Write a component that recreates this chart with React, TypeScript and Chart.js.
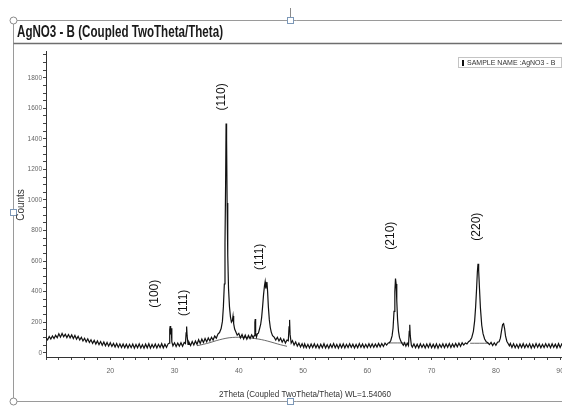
import React, { useEffect, useRef } from "react";
import { Chart, registerables } from "chart.js";

Chart.register(...registerables);

const titleText = "AgNO3 - B (Coupled TwoTheta/Theta)";
const xTitle = "2Theta (Coupled TwoTheta/Theta) WL=1.54060";
const yTitle = "Counts";
const legendText = "SAMPLE NAME :AgNO3 - B";

const twoTheta = [
  10, 10.25, 10.5, 10.75, 11, 11.25, 11.5, 11.75, 12, 12.25,
  12.5, 12.75, 13, 13.25, 13.5, 13.75, 14, 14.25, 14.5, 14.75,
  15, 15.25, 15.5, 15.75, 16, 16.25, 16.5, 16.75, 17, 17.25,
  17.5, 17.75, 18, 18.25, 18.5, 18.75, 19, 19.25, 19.5, 19.75,
  20, 20.25, 20.5, 20.75, 21, 21.25, 21.5, 21.75, 22, 22.25,
  22.5, 22.75, 23, 23.25, 23.5, 23.75, 24, 24.25, 24.5, 24.75,
  25, 25.25, 25.5, 25.75, 26, 26.25, 26.5, 26.75, 27, 27.25,
  27.5, 27.75, 28, 28.25, 28.5, 28.75, 29, 29.15, 29.25, 29.32,
  29.4, 29.48, 29.58, 29.75, 30, 30.25, 30.5, 30.75, 31, 31.25,
  31.5, 31.7, 31.8, 31.88, 31.96, 32.1, 32.25, 32.5, 32.75, 33,
  33.25, 33.5, 33.75, 34, 34.25, 34.5, 34.75, 35, 35.25, 35.5,
  35.75, 36, 36.25, 36.5, 36.75, 37, 37.25, 37.45, 37.6, 37.75,
  37.85, 37.95, 38.02, 38.1, 38.18, 38.28, 38.4, 38.55, 38.7, 38.85,
  39, 39.1, 39.2, 39.35, 39.5, 39.75, 40, 40.25, 40.5, 40.75,
  41, 41.25, 41.5, 41.75, 42, 42.25, 42.4, 42.5, 42.56, 42.62,
  42.75, 42.9, 43.05, 43.2, 43.4, 43.55, 43.7, 43.85, 44, 44.1,
  44.2, 44.3, 44.38, 44.48, 44.6, 44.75, 44.9, 45.05, 45.25, 45.5,
  45.75, 46, 46.25, 46.5, 46.75, 47, 47.25, 47.5, 47.7, 47.82,
  47.9, 47.98, 48.15, 48.35, 48.6, 48.85, 49.1, 49.35, 49.6, 49.85,
  50.1, 50.25, 50.5, 50.75, 51, 51.25, 51.5, 51.75, 52, 52.25,
  52.5, 52.75, 53, 53.25, 53.5, 53.75, 54, 54.25, 54.5, 54.75,
  55, 55.25, 55.5, 55.75, 56, 56.25, 56.5, 56.75, 57, 57.25,
  57.5, 57.75, 58, 58.25, 58.5, 58.75, 59, 59.25, 59.5, 59.75,
  60, 60.25, 60.5, 60.75, 61, 61.25, 61.5, 61.75, 62, 62.25,
  62.5, 62.75, 63, 63.25, 63.45, 63.65, 63.85, 64, 64.15, 64.28,
  64.38, 64.48, 64.58, 64.7, 64.85, 65, 65.2, 65.4, 65.6, 65.8,
  66, 66.2, 66.4, 66.52, 66.6, 66.68, 66.85, 67, 67.25, 67.5,
  67.75, 68, 68.25, 68.5, 68.75, 69, 69.25, 69.5, 69.75, 70,
  70.25, 70.5, 70.75, 71, 71.25, 71.5, 71.75, 72, 72.25, 72.5,
  72.75, 73, 73.25, 73.5, 73.75, 74, 74.25, 74.5, 74.75, 75,
  75.25, 75.5, 75.75, 76, 76.25, 76.5, 76.7, 76.85, 77, 77.12,
  77.22, 77.32, 77.45, 77.6, 77.8, 78, 78.25, 78.5, 78.75, 79,
  79.25, 79.5, 79.75, 80, 80.25, 80.5, 80.7, 80.9, 81.05, 81.2,
  81.35, 81.5, 81.7, 81.9, 82.1, 82.25, 82.5, 82.75, 83, 83.25,
  83.5, 83.75, 84, 84.25, 84.5, 84.75, 85, 85.25, 85.5, 85.75,
  86, 86.25, 86.5, 86.75, 87, 87.25, 87.5, 87.75, 88, 88.25,
  88.5, 88.75, 89, 89.25, 89.5, 89.75, 90, 90.25, 90.5, 90.75,
  91, 91.25, 91.5, 91.75, 92,
];

const counts = [
  98, 84, 106, 90, 110, 93, 114, 98, 124, 102,
  126, 104, 121, 99, 119, 97, 117, 93, 113, 89,
  107, 83, 101, 77, 95, 71, 91, 67, 85, 61,
  81, 57, 77, 53, 73, 49, 70, 45, 67, 43,
  65, 41, 61, 37, 60, 35, 58, 34, 57, 33,
  56, 31, 55, 33, 57, 30, 54, 32, 58, 31,
  53, 29, 56, 32, 59, 30, 54, 33, 57, 31,
  55, 34, 59, 32, 56, 35, 58, 62, 150, 175,
  120, 160, 70, 45, 65, 41, 63, 43, 66, 42,
  67, 60, 130, 172, 110, 55, 69, 47, 73, 51,
  77, 55, 85, 61, 89, 67, 93, 71, 97, 77,
  101, 83, 109, 95, 122, 132, 158, 205, 300, 450,
  720, 1120, 1500, 1390, 980, 640, 420, 300, 235, 200,
  210, 240, 190, 155, 140, 115, 127, 97, 119, 91,
  115, 89, 113, 93, 117, 97, 112, 200, 220, 130,
  103, 125, 128, 152, 185, 230, 300, 380, 440, 465,
  420, 445, 462, 400, 300, 215, 165, 135, 112, 102,
  83, 101, 77, 95, 69, 89, 63, 83, 78, 170,
  215, 120, 63, 79, 51, 71, 43, 63, 37, 59,
  35, 58, 33, 55, 31, 57, 34, 58, 32, 54,
  30, 55, 33, 59, 31, 53, 29, 56, 34, 60,
  32, 54, 30, 57, 33, 58, 31, 55, 34, 59,
  35, 56, 31, 54, 33, 60, 35, 57, 32, 55,
  34, 59, 36, 58, 35, 57, 37, 61, 39, 60,
  41, 63, 50, 64, 66, 80, 110, 160, 270, 400,
  485, 450, 340, 220, 140, 100, 76, 61, 49, 65,
  43, 63, 47, 140, 183, 110, 49, 37, 58, 33,
  56, 32, 59, 35, 55, 31, 57, 34, 60, 33,
  56, 32, 58, 30, 55, 35, 59, 33, 57, 36,
  60, 34, 58, 37, 61, 39, 63, 42, 65, 50,
  64, 58, 72, 80, 100, 140, 210, 300, 420, 530,
  582, 540, 420, 290, 180, 125, 90, 71, 65, 53,
  67, 47, 65, 49, 69, 72, 95, 150, 185, 190,
  160, 110, 75, 60, 45, 61, 35, 58, 33, 55,
  31, 57, 34, 59, 32, 55, 35, 58, 30, 56,
  33, 60, 35, 57, 32, 55, 34, 59, 36, 57,
  33, 58, 35, 56, 32, 59, 34, 57, 36, 55,
  33, 58, 35, 56, 37,
];

// fitted background curves (null = gap)
const fitTheta = [33.5, 34.5, 35.5, 36.5, 37.5, 38.5, 39.5, 40.5, 41.5, 42.5, 43.5, 44.5, 45.5, 46.5, 47.5, 55, 63.4, 65.9, 70, 76.0, 78.9];
const fitCounts = [46, 55, 66, 79, 90, 98, 101, 101, 98, 93, 86, 76, 64, 52, 42, null, 64, 64, null, 62, 62];

// peak annotations
const peakLabels = ["(100)", "(111)", "(110)", "(111)", "(210)", "(220)"];
const peakLabelTheta = [26.9, 31.4, 37.3, 43.2, 63.6, 77.0];
const peakLabelCounts = [386, 327, 1675, 628, 766, 825];

const xMajor = [20, 30, 40, 50, 60, 70, 80, 90];
const yMajor = [0, 200, 400, 600, 800, 1000, 1200, 1400, 1600, 1800];

const SANS = '"Liberation Sans", Arial, sans-serif';

function squeezeText(ctx: CanvasRenderingContext2D, text: string, x: number, y: number, width: number, align: "left" | "center") {
  const w = ctx.measureText(text).width;
  const k = Math.min(1, width / w);
  ctx.save();
  ctx.translate(x, y);
  ctx.scale(k, 1);
  ctx.textAlign = align;
  ctx.fillText(text, 0, 0);
  ctx.restore();
}

const decorPlugin = {
  id: "decor",
  afterDraw(chart: any) {
    const ctx = chart.ctx as CanvasRenderingContext2D;
    const xs = chart.scales.x;
    const ys = chart.scales.y;
    ctx.save();
    // frame
    ctx.strokeStyle = "#9a9a9a";
    ctx.lineWidth = 1;
    ctx.beginPath();
    ctx.moveTo(13.5, 20.5); ctx.lineTo(580, 20.5);
    ctx.moveTo(13.5, 20.5); ctx.lineTo(13.5, 401.5);
    ctx.moveTo(13.5, 401.5); ctx.lineTo(580, 401.5);
    ctx.stroke();
    ctx.strokeStyle = "#6e6e6e";
    ctx.lineWidth = 1.5;
    ctx.beginPath();
    ctx.moveTo(13.5, 43.5); ctx.lineTo(580, 43.5);
    ctx.stroke();
    // handles
    ctx.lineWidth = 1;
    ctx.strokeStyle = "#8a8a8a";
    ctx.fillStyle = "#ffffff";
    const circ = (x: number, y: number) => {
      ctx.beginPath(); ctx.arc(x, y, 3.5, 0, Math.PI * 2); ctx.fill(); ctx.stroke();
    };
    const sq = (x: number, y: number, c: string) => {
      ctx.strokeStyle = c;
      ctx.fillRect(x - 3, y - 3, 6, 6); ctx.strokeRect(x - 3, y - 3, 6, 6);
      ctx.strokeStyle = "#8a8a8a";
    };
    ctx.beginPath(); ctx.moveTo(290.5, 8); ctx.lineTo(290.5, 17); ctx.stroke();
    circ(13.5, 20.5);
    circ(13.5, 401.5);
    sq(290.5, 20.5, "#7c98b8");
    sq(13.5, 212.5, "#7c98b8");
    sq(290.5, 401.5, "#7c98b8");
    // title
    ctx.fillStyle = "#1a1a1a";
    ctx.textBaseline = "alphabetic";
    ctx.font = `bold 16px ${SANS}`;
    squeezeText(ctx, titleText, 17, 37, 206, "left");
    // axis titles
    ctx.fillStyle = "#333";
    ctx.font = `9.5px ${SANS}`;
    ctx.textBaseline = "middle";
    squeezeText(ctx, xTitle, 305, 394, 172, "center");
    ctx.save();
    ctx.translate(21, 205);
    ctx.rotate(-Math.PI / 2);
    ctx.font = `10px ${SANS}`;
    squeezeText(ctx, yTitle, 0, 0, 32, "center");
    ctx.restore();
    // legend
    ctx.fillStyle = "#ffffff";
    ctx.strokeStyle = "#c4c4c4";
    ctx.lineWidth = 1;
    ctx.fillRect(458.5, 57.5, 103, 10);
    ctx.strokeRect(458.5, 57.5, 103, 10);
    ctx.fillStyle = "#111";
    ctx.fillRect(462, 60, 2, 6);
    ctx.fillStyle = "#333";
    ctx.font = `7px ${SANS}`;
    squeezeText(ctx, legendText, 467, 62.8, 90, "left");
    // peak labels
    ctx.fillStyle = "#111";
    ctx.font = `12px ${SANS}`;
    ctx.textAlign = "center";
    ctx.textBaseline = "middle";
    peakLabels.forEach((t, i) => {
      const px = xs.getPixelForValue(peakLabelTheta[i]);
      const py = ys.getPixelForValue(peakLabelCounts[i]);
      ctx.save();
      ctx.translate(px, py);
      ctx.rotate(-Math.PI / 2);
      ctx.fillText(t, 0, 0);
      ctx.restore();
    });
    ctx.restore();
  },
};

export default function App() {
  const ref = useRef<HTMLCanvasElement>(null);
  useEffect(() => {
    if (!ref.current) return;
    const xTicks: number[] = [];
    for (let v = 10; v <= 92; v += 2) xTicks.push(v);
    const yTicks: number[] = [];
    for (let v = 0; v <= 1950; v += 50) yTicks.push(v);
    const chart = new Chart(ref.current, {
      type: "line",
      data: {
        datasets: [
          {
            label: "data",
            data: twoTheta.map((x, i) => ({ x, y: counts[i] })),
            borderColor: "#111",
            borderWidth: 1.2,
            pointRadius: 0,
            tension: 0,
          },
          {
            label: "fit",
            data: fitTheta.map((x, i) => ({ x, y: fitCounts[i] })),
            borderColor: "#444",
            borderWidth: 0.8,
            pointRadius: 0,
            spanGaps: false,
            tension: 0.3,
          },
        ],
      },
      options: {
        animation: false,
        responsive: false,
        maintainAspectRatio: false,
        layout: { padding: { left: 0, top: 51, right: 5, bottom: 0 } },
        plugins: { legend: { display: false }, tooltip: { enabled: false }, title: { display: false } },
        scales: {
          x: {
            type: "linear",
            min: 10,
            max: 92,
            afterBuildTicks: (s: any) => { s.ticks = xTicks.map((value) => ({ value })); },
            afterFit: (s: any) => { s.height = 49; },
            border: { display: true, color: "#333", width: 1 },
            grid: { drawOnChartArea: false, tickLength: 3, color: "#444" },
            ticks: {
              autoSkip: false,
              maxRotation: 0,
              padding: 7,
              color: "#666",
              font: { family: SANS, size: 7 },
              callback: (v: any) => (xMajor.includes(Number(v)) ? String(v) : ""),
            },
          },
          y: {
            type: "linear",
            min: -28,
            max: 1975,
            afterBuildTicks: (s: any) => { s.ticks = yTicks.map((value) => ({ value })); },
            afterFit: (s: any) => { s.width = 46; },
            border: { display: true, color: "#333", width: 1 },
            grid: { drawOnChartArea: false, tickLength: 3, color: "#444" },
            ticks: {
              autoSkip: false,
              padding: 1,
              color: "#666",
              font: { family: SANS, size: 6.5 },
              callback: (v: any) => (yMajor.includes(Number(v)) ? String(v) : ""),
            },
          },
        },
      },
      plugins: [decorPlugin],
    } as any);
    return () => chart.destroy();
  }, []);
  return (
    <div style={{ position: "fixed", left: 0, top: 0, width: 562, height: 406, overflow: "hidden", background: "#fff" }}>
      <canvas ref={ref} width={580} height={406} style={{ width: 580, height: 406, display: "block" }} />
    </div>
  );
}
